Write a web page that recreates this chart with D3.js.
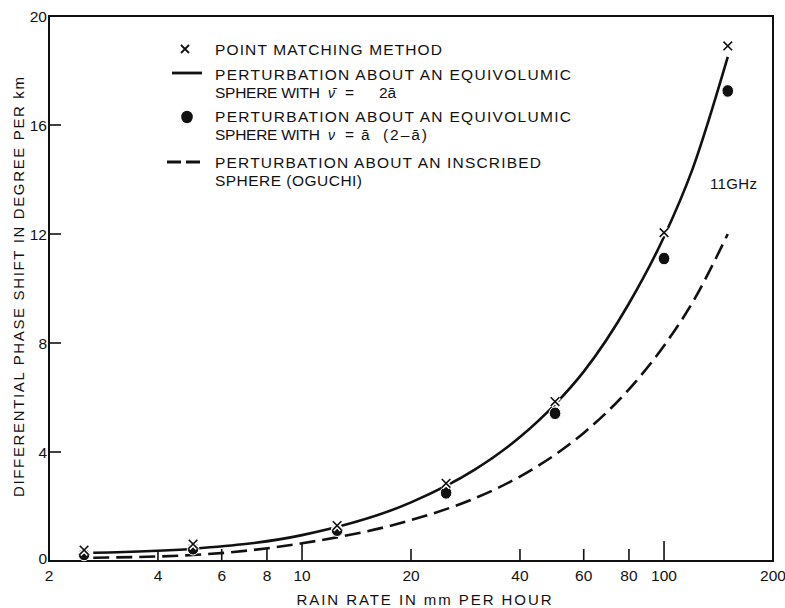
<!DOCTYPE html>
<html><head><meta charset="utf-8">
<script src="https://cdn.jsdelivr.net/npm/d3@7"></script>
<style>
body{margin:0;background:#fff;}
svg{display:block;}
text{font-family:"Liberation Sans",Arial,Helvetica,sans-serif;fill:#111;}
</style></head>
<body>
<script>
// ---- data ----
const xTickValues = [2, 4, 6, 8, 10, 20, 40, 60, 80, 100, 200];
const xTickLabels = ["2","4","6","8","10","20","40","60","80","100","200"];
const yTickValues = [0, 4, 8, 12, 16, 20];
const markerRain = [2.5, 5, 12.5, 25, 50, 100, 150];
const pointMatching = [0.4, 0.62, 1.3, 2.85, 5.85, 12.05, 18.9];
const equivDot = [0.24, 0.45, 1.13, 2.5, 5.42, 11.1, 17.25];
const curveRain = [2.65, 5, 10, 20, 30, 40, 50, 60, 80, 100, 120, 150];
const equivSolid = [0.3, 0.45, 0.95, 2.15, 3.35, 4.55, 5.75, 6.95, 9.45, 11.9, 14.4, 18.5];
const inscribedDashed = [0.12, 0.22, 0.65, 1.5, 2.3, 3.1, 3.9, 4.7, 6.3, 7.9, 9.5, 12.0];
const legendLines = [
  "POINT MATCHING METHOD",
  "PERTURBATION ABOUT AN EQUIVOLUMIC",
  "PERTURBATION ABOUT AN EQUIVOLUMIC",
  "PERTURBATION ABOUT AN INSCRIBED",
  "SPHERE (OGUCHI)"
];

const W = 785, H = 608;
const svg = d3.select("body").append("svg").attr("width", W).attr("height", H);

const x = d3.scaleLog().domain([2, 200]).range([49, 773]);
const y = d3.scaleLinear().domain([0, 20]).range([561, 16]);

// frame
svg.append("rect")
  .attr("x", x(2)).attr("y", y(20))
  .attr("width", x(200) - x(2)).attr("height", y(0) - y(20))
  .attr("fill", "none").attr("stroke", "#111").attr("stroke-width", 2);

// x ticks (inward) and labels
const xTickLen = v => (v === 100 ? 20 : v === 10 ? 17 : v === 4 ? 10 : 12);
svg.append("g").selectAll("line")
  .data(xTickValues.filter(v => v !== 2 && v !== 200))
  .join("line")
  .attr("x1", d => x(d)).attr("x2", d => x(d))
  .attr("y1", y(0)).attr("y2", d => y(0) - xTickLen(d))
  .attr("stroke", "#111").attr("stroke-width", 1.6);
svg.append("g").selectAll("text")
  .data(xTickValues)
  .join("text")
  .attr("x", d => x(d)).attr("y", 581)
  .attr("text-anchor", "middle").attr("font-size", 15.5)
  .text((d, i) => xTickLabels[i]);

// y ticks (inward) and labels
svg.append("g").selectAll("line")
  .data(yTickValues.filter(v => v !== 0 && v !== 20))
  .join("line")
  .attr("x1", x(2)).attr("x2", x(2) + 12)
  .attr("y1", d => y(d)).attr("y2", d => y(d))
  .attr("stroke", "#111").attr("stroke-width", 1.6);
svg.append("g").selectAll("text")
  .data(yTickValues)
  .join("text")
  .attr("x", 47).attr("y", d => y(d) + 5.5 - (d === 0 ? 3 : 0))
  .attr("text-anchor", "end").attr("font-size", 15.5)
  .text(d => d);

// axis titles
svg.append("text")
  .attr("x", 424).attr("y", 605)
  .attr("text-anchor", "middle").attr("font-size", 15)
  .attr("textLength", 255).attr("lengthAdjust", "spacing")
  .text("RAIN RATE IN mm PER HOUR");
svg.append("text")
  .attr("transform", "translate(24,287) rotate(-90)")
  .attr("text-anchor", "middle").attr("font-size", 15)
  .attr("textLength", 420).attr("lengthAdjust", "spacing")
  .text("DIFFERENTIAL PHASE SHIFT IN DEGREE PER km");

// curves
const line = d3.line().x(d => x(d[0])).y(d => y(d[1])).curve(d3.curveMonotoneX);
svg.append("path")
  .datum(curveRain.map((r, i) => [r, equivSolid[i]]))
  .attr("d", line).attr("fill", "none").attr("stroke", "#111").attr("stroke-width", 2.6);
svg.append("path")
  .datum(curveRain.map((r, i) => [r, inscribedDashed[i]]))
  .attr("d", line).attr("fill", "none").attr("stroke", "#111").attr("stroke-width", 2.6)
  .attr("stroke-dasharray", "16,7");

// markers: dots
svg.append("g").selectAll("ellipse")
  .data(markerRain.map((r, i) => [r, equivDot[i]]))
  .join("ellipse")
  .attr("cx", d => x(d[0])).attr("cy", d => y(d[1]))
  .attr("rx", 5.8).attr("ry", 6.3).attr("fill", "#111")
  .attr("stroke", "#fff").attr("stroke-width", 1);
// markers: X
const xg = svg.append("g");
markerRain.forEach((r, i) => {
  const cx = x(r), cy = y(pointMatching[i]), s = 4.3;
  xg.append("path")
    .attr("d", `M${cx - s},${cy - s}L${cx + s},${cy + s}M${cx + s},${cy - s}L${cx - s},${cy + s}`)
    .attr("stroke", "#fff").attr("stroke-width", 4.5);
  xg.append("path")
    .attr("d", `M${cx - s},${cy - s}L${cx + s},${cy + s}M${cx + s},${cy - s}L${cx - s},${cy + s}`)
    .attr("stroke", "#111").attr("stroke-width", 1.6);
});

// legend
const lg = svg.append("g");
const tx = 215, fs = 15.5;
const addText = (xx, yy, s, len, extra) => {
  const t = lg.append("text").attr("x", xx).attr("y", yy).attr("font-size", fs).text(s);
  if (len) t.attr("textLength", len).attr("lengthAdjust", "spacing");
  if (extra) extra(t);
  return t;
};
// X symbol
lg.append("path")
  .attr("d", "M181,45L189,53M189,45L181,53")
  .attr("stroke", "#111").attr("stroke-width", 1.8);
addText(tx, 55, legendLines[0], 227);
// solid line
lg.append("line").attr("x1", 172).attr("x2", 202).attr("y1", 73).attr("y2", 73)
  .attr("stroke", "#111").attr("stroke-width", 2.8);
addText(tx, 80, legendLines[1], 356);
addText(tx, 98, "SPHERE WITH", 105);
addText(328, 98, "\u03BD\u0304", null, t => t.attr("font-family", "DejaVu Serif").attr("font-style", "italic").attr("font-size", 14));
addText(345, 98, "=");
addText(379, 98, "2\u0101");
// dot
lg.append("ellipse").attr("cx", 187).attr("cy", 117).attr("rx", 5.8).attr("ry", 6.2).attr("fill", "#111");
addText(tx, 122, legendLines[2], 356);
addText(tx, 140, "SPHERE WITH", 105);
addText(328, 140, "\u03BD", null, t => t.attr("font-family", "DejaVu Serif").attr("font-style", "italic").attr("font-size", 14));
addText(345, 140, "=");
addText(361, 140, "\u0101");
addText(383, 140, "(2\u2013\u0101)", 44);
// dashed
lg.append("line").attr("x1", 167).attr("x2", 202).attr("y1", 162).attr("y2", 162)
  .attr("stroke", "#111").attr("stroke-width", 2.8).attr("stroke-dasharray", "14,5");
addText(tx, 168, legendLines[3], 326);
addText(tx, 186, legendLines[4], 147);

// annotation
svg.append("text").attr("x", 710).attr("y", 189).attr("font-size", 15)
  .attr("textLength", 47).attr("lengthAdjust", "spacing").text("11GHz");
</script>
</body></html>
